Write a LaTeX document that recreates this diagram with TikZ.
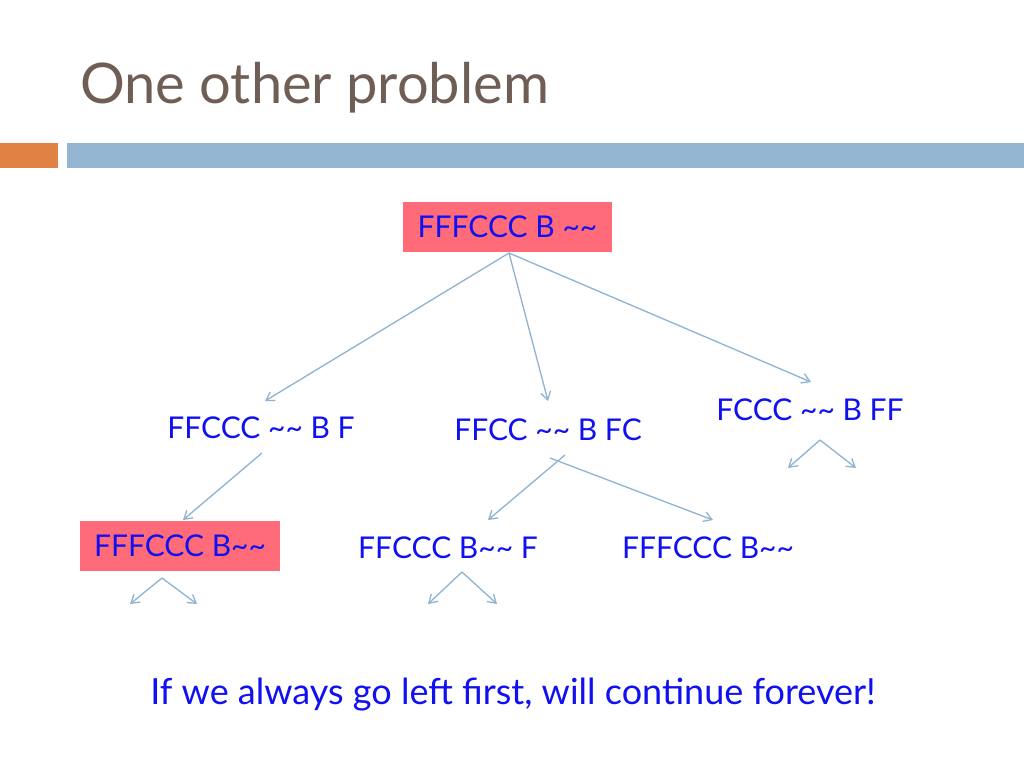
\documentclass[tikz,border=0pt]{standalone}
\usepackage{fontspec}
\setmainfont{Lato}
\usetikzlibrary{arrows.meta}
\definecolor{titlec}{HTML}{6E5E55}
\definecolor{barblue}{HTML}{95B6D3}
\definecolor{barorange}{HTML}{DF8244}
\definecolor{pinkbox}{HTML}{FF6B78}
\definecolor{txtblue}{HTML}{1010F0}
\definecolor{arr}{HTML}{8FB3D1}
\begin{document}
\begin{tikzpicture}[x=1pt,y=-1pt,
  lbl/.style={text=txtblue,font=\fontsize{30}{34}\selectfont,inner sep=0pt},
  hl/.style={fill=pinkbox,minimum height=50pt,inner xsep=10pt},
  conn/.style={draw=arr,line width=1.3pt,-{Straight Barb[length=8pt,width=10pt]}}]
\useasboundingbox (0,0) rectangle (1024,768);
\fill[white] (0,0) rectangle (1024,768);
\node[anchor=base west,text=titlec,font=\fontsize{56}{62}\selectfont,inner sep=0pt] (title) at (80,103) {One other problem};
\fill[barorange] (0,143) rectangle (58,168);
\fill[barblue] (67,143) rectangle (1024,168);
\node[lbl,hl,minimum width=209pt] (root) at (507.5,227) {FFFCCC B \textasciitilde\textasciitilde};
\node[lbl] (a) at (261,428) {FFCCC \textasciitilde\textasciitilde\ B F};
\node[lbl] (b) at (548,430) {FFCC \textasciitilde\textasciitilde\ B FC};
\node[lbl] (c) at (810,410) {FCCC \textasciitilde\textasciitilde\ B FF};
\node[lbl,hl,minimum width=200pt] (d) at (180,546) {FFFCCC B\textasciitilde\textasciitilde};
\node[lbl] (e) at (448,548) {FFCCC B\textasciitilde\textasciitilde\ F};
\node[lbl] (f) at (708,548) {FFFCCC B\textasciitilde\textasciitilde};
\node[text=txtblue,font=\fontsize{36}{40}\selectfont,inner sep=0pt] (bottom) at (513,695) {If we always go left first, will continue forever!};
\coordinate (r0) at (509,253);
\coordinate (a1) at (265,401); \coordinate (b1) at (548,401); \coordinate (c1) at (811,382);
\draw[conn] (r0) -- (a1); \draw[conn] (r0) -- (b1); \draw[conn] (r0) -- (c1);
\coordinate (a0) at (262,453); \coordinate (d1) at (183,520);
\draw[conn] (a0) -- (d1);
\coordinate (b0) at (565,455); \coordinate (b2) at (550,458);
\coordinate (e1) at (488,520); \coordinate (f1) at (713,520);
\draw[conn] (b0) -- (e1); \draw[conn] (b2) -- (f1);
\coordinate (c0) at (820,440); \coordinate (c2) at (788,468); \coordinate (c3) at (856,468);
\draw[conn] (c0) -- (c2); \draw[conn] (c0) -- (c3);
\coordinate (d0) at (162,578); \coordinate (d2) at (130,604); \coordinate (d3) at (197,604);
\draw[conn] (d0) -- (d2); \draw[conn] (d0) -- (d3);
\coordinate (e0) at (462,572); \coordinate (e2) at (428,604); \coordinate (e3) at (497,604);
\draw[conn] (e0) -- (e2); \draw[conn] (e0) -- (e3);
\end{tikzpicture}
\end{document}
